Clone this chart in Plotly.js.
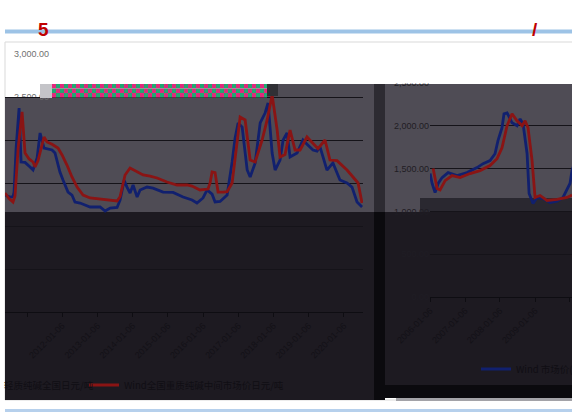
<!DOCTYPE html>
<html>
<head>
<meta charset="utf-8">
<script src="https://cdn.plot.ly/plotly-3.0.1.min.js"></script>
<style>html,body{margin:0;padding:0;background:#fff;}#chart{width:572px;height:412px;}</style>
</head>
<body>
<div id="chart"></div>
<script>
// ---- Left chart (2010-2020) ----
const leftBlueDates = ['2010-05-22','2010-07-13','2010-08-13','2010-08-24','2010-09-14','2010-10-15','2010-11-05','2010-12-16','2011-02-06','2011-03-09','2011-04-20','2011-05-21','2011-07-01','2011-09-22','2011-10-23','2011-12-13','2012-01-14','2012-03-06','2012-04-16','2012-05-17','2012-07-09','2012-08-30','2012-10-21','2013-02-02','2013-03-26','2013-05-17','2013-07-28','2013-08-28','2013-10-09','2013-11-09','2013-12-10','2014-01-10','2014-02-21','2014-03-24','2014-06-04','2014-08-05','2014-11-17','2015-03-01','2015-06-13','2015-09-14','2015-11-04','2016-01-06','2016-02-17','2016-04-09','2016-05-10','2016-07-01','2016-09-12','2016-11-03','2016-12-04','2017-01-04','2017-02-15','2017-04-08','2017-05-09','2017-06-30','2017-08-21','2017-10-11','2017-11-11','2017-12-23','2018-01-23','2018-03-15','2018-04-16','2018-05-27','2018-06-27','2018-09-08','2018-11-08','2018-12-20','2019-02-20','2019-04-03','2019-05-04','2019-07-15','2019-09-15','2019-11-27','2020-02-08','2020-03-31','2020-05-22','2020-07-13'];
const leftBlueValues = [1360,1337,1340,1395,1900,2372,1744,1740,1686,1651,1790,2081,1907,1884,1849,1628,1535,1395,1360,1279,1267,1244,1221,1221,1174,1209,1215,1300,1530,1450,1384,1477,1337,1419,1453,1440,1395,1390,1337,1302,1267,1326,1419,1370,1279,1285,1360,1744,2023,2198,2150,1651,1570,1733,2198,2314,2430,1849,1651,1767,2000,2081,1802,1849,2000,1950,1884,1870,1919,1650,1733,1535,1500,1453,1279,1221];

const leftRedDates = ['2010-05-22','2010-07-03','2010-08-13','2010-09-03','2010-10-05','2010-11-15','2010-12-16','2011-01-27','2011-03-09','2011-03-30','2011-04-30','2011-07-01','2011-08-01','2011-09-22','2011-11-23','2012-01-04','2012-02-24','2012-04-16','2012-06-08','2012-08-09','2012-10-21','2013-02-02','2013-05-17','2013-07-28','2013-08-28','2013-10-19','2013-12-10','2014-02-21','2014-04-24','2014-07-05','2014-09-16','2014-12-28','2015-04-11','2015-07-24','2015-09-14','2015-12-05','2016-02-27','2016-03-19','2016-04-09','2016-05-10','2016-06-10','2016-08-01','2016-09-12','2016-11-03','2016-12-25','2017-01-25','2017-03-18','2017-05-09','2017-06-30','2017-09-10','2017-11-01','2017-12-23','2018-02-13','2018-03-15','2018-05-06','2018-06-27','2018-08-18','2018-10-09','2018-12-20','2019-02-20','2019-04-13','2019-06-25','2019-08-15','2019-10-27','2020-02-08','2020-04-10','2020-06-02','2020-07-13'];
const leftRedValues = [1384,1320,1279,1350,1900,2326,1849,1780,1744,1686,1760,2035,1977,1950,1907,1826,1709,1570,1453,1360,1326,1314,1305,1291,1340,1593,1674,1628,1593,1580,1558,1512,1477,1477,1465,1419,1430,1500,1628,1620,1395,1395,1400,1500,1977,2267,2233,1767,1744,2000,2233,2523,2116,1802,1830,2116,1884,1884,2035,1965,1900,2000,1767,1760,1651,1570,1500,1267];

const leftTicks = ['2011-01-06','2012-01-06','2013-01-06','2014-01-06','2015-01-06','2016-01-06','2017-01-06','2018-01-06','2019-01-06','2020-01-06'];
const leftNames = ['轻质纯碱全国日元/吨','Wind全国重质纯碱中间市场价日元/吨'];

// ---- Right chart (2006-2010) ----
const rightBlueDates = ['2006-01-06','2006-01-27','2006-02-27','2006-03-31','2006-05-11','2006-07-13','2006-10-15','2007-01-27','2007-05-11','2007-07-13','2007-09-24','2007-11-15','2007-12-16','2008-01-27','2008-02-17','2008-03-20','2008-05-11','2008-07-02','2008-08-03','2008-09-03','2008-10-15','2008-11-05','2008-12-16','2009-01-27','2009-03-31','2009-06-12','2009-08-24','2009-10-25','2010-01-06','2010-01-27','2010-02-18'];
const rightBlueValues = [1442,1326,1221,1326,1395,1453,1419,1453,1512,1558,1593,1674,1826,1977,2140,2151,2035,2000,2081,2023,1674,1209,1093,1163,1150,1105,1120,1163,1326,1477,1550];
const rightRedDates = ['2006-02-07','2006-03-20','2006-04-20','2006-06-12','2006-08-24','2006-11-15','2007-02-27','2007-06-12','2007-09-24','2007-12-06','2008-01-27','2008-03-20','2008-05-11','2008-07-02','2008-08-24','2008-09-24','2008-10-25','2008-12-06','2009-01-06','2009-02-27','2009-05-11','2009-08-24','2009-12-06','2010-01-27'];
const rightRedValues = [1500,1267,1250,1360,1419,1395,1442,1477,1535,1616,1744,2000,2140,2058,2000,2058,1977,1593,1163,1186,1128,1140,1163,1190];
const rightTicks = ['2006-01-06','2007-01-06','2008-01-06','2009-01-06','2010-01-06'];
const rightNames = ['Wind 市场价(中间价)','Wind 市场价(中间价):重质纯碱'];

// ---- Axis tick values ----
const leftYTicks = [0,500,1000,1500,2000,2500];
const rightYTicks = [0,500,1000,1500,2000,2500];
const rightYText = ['0.00','500.00','1,000.00','1,500.00','2,000.00','2,500.00'];
const bgYTicks = [3000];
const bgYText = ['3,000.00'];
const bgY2Ticks = [2500];
const bgY2Text = ['2,500.00'];

// ---- helpers ----
const W = 572, H = 412;
const px = x => x / W;
const py = y => 1 - y / H;
function rect(x0, y0, x1, y1, fill, layer, line) {
  return {type:'rect', xref:'paper', yref:'paper', x0:px(x0), x1:px(x1), y0:py(y1), y1:py(y0),
          fillcolor:fill, line: line || {width:0}, layer: layer || 'below'};
}

const GRAY = '#4f4c55', DARK = '#1d1a21', BLACK = '#0b0a0e';
const BLUE = '#11206e', RED = '#8a1414';
const GRID = '#151319';

const shapes = [
  rect(5, 42, 580, 400, '#ffffff', 'below', {color:'#d9d9d9', width:1}),
  rect(5, 98, 374, 212, GRAY),
  rect(267, 84, 374, 98, GRAY),
  rect(374, 84, 385, 212, '#2d2b32'),
  rect(385, 84, 572, 212, GRAY),
  rect(420, 198, 572, 212, '#2a2830'),
  rect(5, 212, 374, 400, DARK),
  rect(374, 212, 385, 400, BLACK),
  rect(385, 212, 572, 385, DARK),
  rect(385, 385, 572, 398, BLACK),
  rect(396, 398, 572, 401, '#a3a3a8'),
  rect(5, 29.5, 572, 33.5, '#9dc3e6'),
  rect(5, 409, 572, 412, '#b6d0ec'),
  // above items
  rect(40, 84, 52, 98, '#c4c4c8', 'above'),
  rect(5, 98, 40, 104, GRAY, 'above'),
  rect(267, 84, 278, 96, '#303035', 'above'),
  rect(385, 68, 572, 83.5, '#ffffff', 'above')
];
// checkered selection bar
(function(){
  const rows = [[84, 88.5], [88.5, 93], [93, 97.5]];
  let c = 0;
  for (let x = 52; x < 267; x += 4) {
    rows.forEach((r, i) => {
      const pink = (c + i) % 2 === 0;
      shapes.push(rect(x, r[0], Math.min(x + 4, 267), r[1], pink ? '#e3287c' : '#1faa72', 'above'));
    });
    c++;
  }
})();

const tickFont = {family:'Liberation Sans, Arial, sans-serif', size:9, color:'#131117'};
const greyFont = {family:'Liberation Sans, Arial, sans-serif', size:9, color:'#707070'};
const legendFont = {family:'Noto Sans CJK SC, sans-serif', size:9.5, color:'#100e14'};

const traces = [
  // empty traces that only carry the background chart's axes
  {x: [], y: [], xaxis:'x', yaxis:'y', type:'scatter', mode:'lines', showlegend:false},
  {x: [], y: [], xaxis:'x', yaxis:'y5', type:'scatter', mode:'lines', showlegend:false},
  {x: leftBlueDates, y: leftBlueValues, xaxis:'x2', yaxis:'y2', type:'scatter', mode:'lines',
   name: leftNames[0], line:{color:BLUE, width:2.8}, legend:'legend3'},
  {x: leftRedDates, y: leftRedValues, xaxis:'x2', yaxis:'y2', type:'scatter', mode:'lines',
   name: leftNames[1], line:{color:RED, width:2.8}, legend:'legend'},
  {x: rightBlueDates, y: rightBlueValues, xaxis:'x3', yaxis:'y3', type:'scatter', mode:'lines',
   name: rightNames[0], line:{color:BLUE, width:2.8}, legend:'legend2'},
  {x: rightRedDates, y: rightRedValues, xaxis:'x3', yaxis:'y3', type:'scatter', mode:'lines',
   name: rightNames[1], line:{color:RED, width:2.8}, showlegend:false}
];

const layout = {
  width: W, height: H,
  margin: {l:0, r:0, t:0, b:0, autoexpand:false},
  paper_bgcolor: '#ffffff',
  plot_bgcolor: 'rgba(0,0,0,0)',
  font: {family:'Liberation Sans, Arial, sans-serif', size:9},
  hovermode: false,
  shapes: shapes,
  // background chart (only its top part is visible)
  xaxis: {domain:[px(50), px(515)], range:[0,1], showgrid:false, zeroline:false, showline:false,
          showticklabels:false, ticks:''},
  yaxis: {domain:[py(312), py(54)], range:[0,3000], tickvals: bgYTicks, ticktext: bgYText,
          showgrid:true, gridcolor:'#e2e2e2', zeroline:false, showline:false, ticks:'',
          tickfont: greyFont, anchor:'x'},
  yaxis5: {overlaying:'y', range:[0,3000], tickvals: bgY2Ticks, ticktext: bgY2Text, showgrid:false,
           zeroline:false, showline:false, ticks:'', side:'left', anchor:'x', tickfont: greyFont},
  // left data chart
  xaxis2: {domain:[px(5), px(363)], range:['2010-05-22','2020-07-23'], anchor:'y2', type:'date',
           tickvals: leftTicks, ticktext: leftTicks, tickangle:-45, tickfont: tickFont,
           showgrid:false, zeroline:false, showline:true, linecolor:'#0e0d12', linewidth:1,
           ticks:'outside', ticklen:4, tickcolor:'#0e0d12'},
  yaxis2: {domain:[py(312), py(54)], range:[0,3000], anchor:'x2', tickvals: leftYTicks,
           showticklabels:false, ticks:'', showgrid:true, gridcolor:GRID, zeroline:false, showline:false},
  // right data chart
  xaxis3: {domain:[px(430), 1], range:['2006-01-05','2010-01-27'], anchor:'y3', type:'date',
           tickvals: rightTicks, ticktext: rightTicks, tickangle:-45, tickfont: tickFont,
           showgrid:false, zeroline:false, showline:true, linecolor:'#0e0d12', linewidth:1,
           ticks:'outside', ticklen:4, tickcolor:'#0e0d12'},
  yaxis3: {domain:[py(297), py(83)], range:[0,2500], anchor:'x3', tickvals: rightYTicks, ticktext: rightYText,
           tickfont:{family:'Liberation Sans, Arial, sans-serif', size:9, color:'#1f1d24'},
           ticks:'', showgrid:true, gridcolor:GRID, zeroline:false, showline:false},
  legend3: {orientation:'h', x:-36/572, xanchor:'left', y:py(385), yanchor:'middle', bgcolor:'rgba(0,0,0,0)',
           font: legendFont, itemwidth:30},
  legend: {orientation:'h', x:84/572, xanchor:'left', y:py(385), yanchor:'middle', bgcolor:'rgba(0,0,0,0)',
           font: legendFont, itemwidth:30},
  legend2: {orientation:'h', x:px(476), xanchor:'left', y:py(369), yanchor:'middle', bgcolor:'rgba(0,0,0,0)',
           font: legendFont, itemwidth:30},
  annotations: [
    {text:'<b>5</b>', x:px(36), y:py(17), xref:'paper', yref:'paper', showarrow:false,
     font:{family:'Liberation Sans, Arial, sans-serif', size:19, color:'#c00000'}},
    {text:'<b>/</b>', x:px(540), y:py(17), xref:'paper', yref:'paper', showarrow:false,
     font:{family:'Liberation Sans, Arial, sans-serif', size:19, color:'#c00000'}}
  ]
};

Plotly.newPlot('chart', traces, layout, {staticPlot:true, displayModeBar:false});
</script>
</body>
</html>
